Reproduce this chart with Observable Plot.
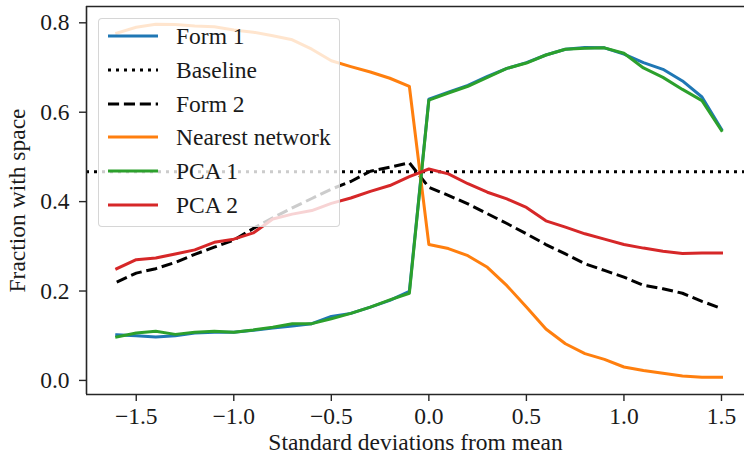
<!DOCTYPE html>
<html>
<head>
<meta charset="utf-8">
<script src="https://cdn.jsdelivr.net/npm/d3@7"></script>
<script src="https://cdn.jsdelivr.net/npm/@observablehq/plot@0.6"></script>
<style>
  html, body { margin: 0; padding: 0; background: #fff; }
  #wrap { position: relative; width: 744px; height: 460px; overflow: hidden; font-family: "Liberation Serif", "Times New Roman", serif; }
  #legend { position: absolute; left: 98px; top: 18px; width: 242px; height: 209px; box-sizing: border-box;
    background: rgba(255,255,255,0.8); border: 1.5px solid rgba(204,204,204,0.8); border-radius: 4px; }
  .row { position: absolute; left: 0; height: 34px; display: flex; align-items: center; }
  .row svg { margin-left: 8px; }
  .row span { position: absolute; left: 77px; font-size: 23.5px; color: #1a1a1a; white-space: nowrap; line-height: 34px; top: 0; }
</style>
</head>
<body>
<div id="wrap"></div>
<script>
// x positions (standard deviations from mean)
const xs = [-1.6, -1.5, -1.4, -1.3, -1.2, -1.1, -1.0, -0.9, -0.8, -0.7, -0.6, -0.5, -0.4, -0.3, -0.2, -0.1,
             0.0, 0.1, 0.2, 0.3, 0.4, 0.5, 0.6, 0.7, 0.8, 0.9, 1.0, 1.1, 1.2, 1.3, 1.4, 1.5];

const form1 = [0.102, 0.100, 0.097, 0.100, 0.106, 0.108, 0.108, 0.112, 0.117, 0.122, 0.127, 0.143, 0.150, 0.164, 0.179, 0.199,
               0.629, 0.645, 0.660, 0.680, 0.698, 0.711, 0.728, 0.741, 0.745, 0.744, 0.730, 0.711, 0.696, 0.670, 0.634, 0.562];
const baseline = 0.467;
const form2 = [0.220, 0.240, 0.250, 0.264, 0.282, 0.298, 0.314, 0.340, 0.364, 0.386, 0.407, 0.428, 0.445, 0.468, 0.477, 0.487,
               0.432, 0.414, 0.395, 0.373, 0.351, 0.328, 0.304, 0.283, 0.261, 0.246, 0.231, 0.213, 0.205, 0.195, 0.177, 0.161];
const nearest = [0.777, 0.790, 0.797, 0.796, 0.793, 0.791, 0.784, 0.779, 0.771, 0.762, 0.741, 0.715, 0.702, 0.690, 0.676, 0.658,
                 0.304, 0.295, 0.279, 0.253, 0.212, 0.164, 0.115, 0.082, 0.060, 0.047, 0.030, 0.022, 0.016, 0.010, 0.007, 0.007];
const pca1 = [0.097, 0.106, 0.110, 0.103, 0.108, 0.110, 0.108, 0.113, 0.119, 0.127, 0.127, 0.138, 0.150, 0.164, 0.180, 0.195,
              0.627, 0.643, 0.658, 0.678, 0.698, 0.710, 0.728, 0.741, 0.743, 0.744, 0.732, 0.699, 0.678, 0.651, 0.626, 0.559];
const pca2 = [0.250, 0.270, 0.274, 0.283, 0.292, 0.309, 0.316, 0.330, 0.361, 0.372, 0.380, 0.396, 0.408, 0.423, 0.436, 0.456,
              0.473, 0.462, 0.440, 0.421, 0.406, 0.387, 0.357, 0.343, 0.328, 0.316, 0.304, 0.296, 0.289, 0.284, 0.285, 0.285];

const seriesNames = ["Form 1", "Baseline", "Form 2", "Nearest network", "PCA 1", "PCA 2"];
const seriesColors = ["#1f77b4", "#000000", "#000000", "#ff7f0e", "#2ca02c", "#d62728"];
const seriesDash = [null, "3,5", "11.1,4.8", null, null, null];

const xTicks = [-1.5, -1.0, -0.5, 0.0, 0.5, 1.0, 1.5];
const yTicks = [0.0, 0.2, 0.4, 0.6, 0.8];
const xDomain = [-1.755, 1.618];
const yDomain = [-0.0315, 0.8365];

const fmt = d => (d < 0 ? "\u2212" : "") + Math.abs(d).toFixed(1);

const valueSets = [form1, xs.map(() => baseline), form2, nearest, pca1, pca2];
const lineMarks = valueSets.map((vals, i) => {
  const data = xs.map((x, j) => ({x, y: vals[j]}));
  if (i === 1) {
    return Plot.ruleY([baseline], {stroke: seriesColors[i], strokeWidth: 3, strokeDasharray: seriesDash[i]});
  }
  return Plot.line(data, {x: "x", y: "y", stroke: seriesColors[i], strokeWidth: 3,
    strokeDasharray: seriesDash[i] || undefined, strokeLinejoin: "round", strokeLinecap: i === 2 ? "butt" : "square"});
});

const plot = Plot.plot({
  width: 744,
  height: 460,
  marginLeft: 86,
  marginRight: 0,
  marginTop: 6,
  marginBottom: 66,
  style: {fontFamily: "'Liberation Serif', 'Times New Roman', serif", fontSize: "23.5px", color: "#1a1a1a", background: "white"},
  x: {domain: xDomain},
  y: {domain: yDomain},
  marks: [
    ...lineMarks,
    Plot.ruleX([xDomain[0]], {stroke: "#262626", strokeWidth: 1.6}),
    Plot.ruleY([yDomain[0]], {stroke: "#262626", strokeWidth: 1.6}),
    Plot.ruleY([yDomain[1]], {stroke: "#262626", strokeWidth: 1.6}),
    Plot.axisX({ticks: xTicks, tickFormat: fmt, tickSize: 7, tickPadding: 6, stroke: "#262626", strokeWidth: 1.4,
      label: "Standard deviations from mean", labelAnchor: "center", labelArrow: "none", labelOffset: 55, fontSize: 23.5}),
    Plot.axisY({ticks: yTicks, tickFormat: d => d.toFixed(1), tickSize: 7, tickPadding: 10, stroke: "#262626", strokeWidth: 1.4,
      label: "Fraction with space", labelAnchor: "center", labelArrow: "none", labelOffset: 78, fontSize: 23.5})
  ]
});

const wrap = document.getElementById("wrap");
wrap.appendChild(plot);

// legend overlay (semi-transparent like matplotlib)
const legend = document.createElement("div");
legend.id = "legend";
seriesNames.forEach((name, i) => {
  const row = document.createElement("div");
  row.className = "row";
  row.style.top = (i * 33.8) + "px";
  const svgNS = "http://www.w3.org/2000/svg";
  const s = document.createElementNS(svgNS, "svg");
  s.setAttribute("width", "52");
  s.setAttribute("height", "10");
  const l = document.createElementNS(svgNS, "line");
  l.setAttribute("x1", "1"); l.setAttribute("x2", "51");
  l.setAttribute("y1", "5"); l.setAttribute("y2", "5");
  l.setAttribute("stroke", seriesColors[i]);
  l.setAttribute("stroke-width", "3");
  if (seriesDash[i]) l.setAttribute("stroke-dasharray", seriesDash[i]);
  s.appendChild(l);
  row.appendChild(s);
  const t = document.createElement("span");
  t.textContent = name;
  row.appendChild(t);
  legend.appendChild(row);
});
wrap.appendChild(legend);
</script>
</body>
</html>
